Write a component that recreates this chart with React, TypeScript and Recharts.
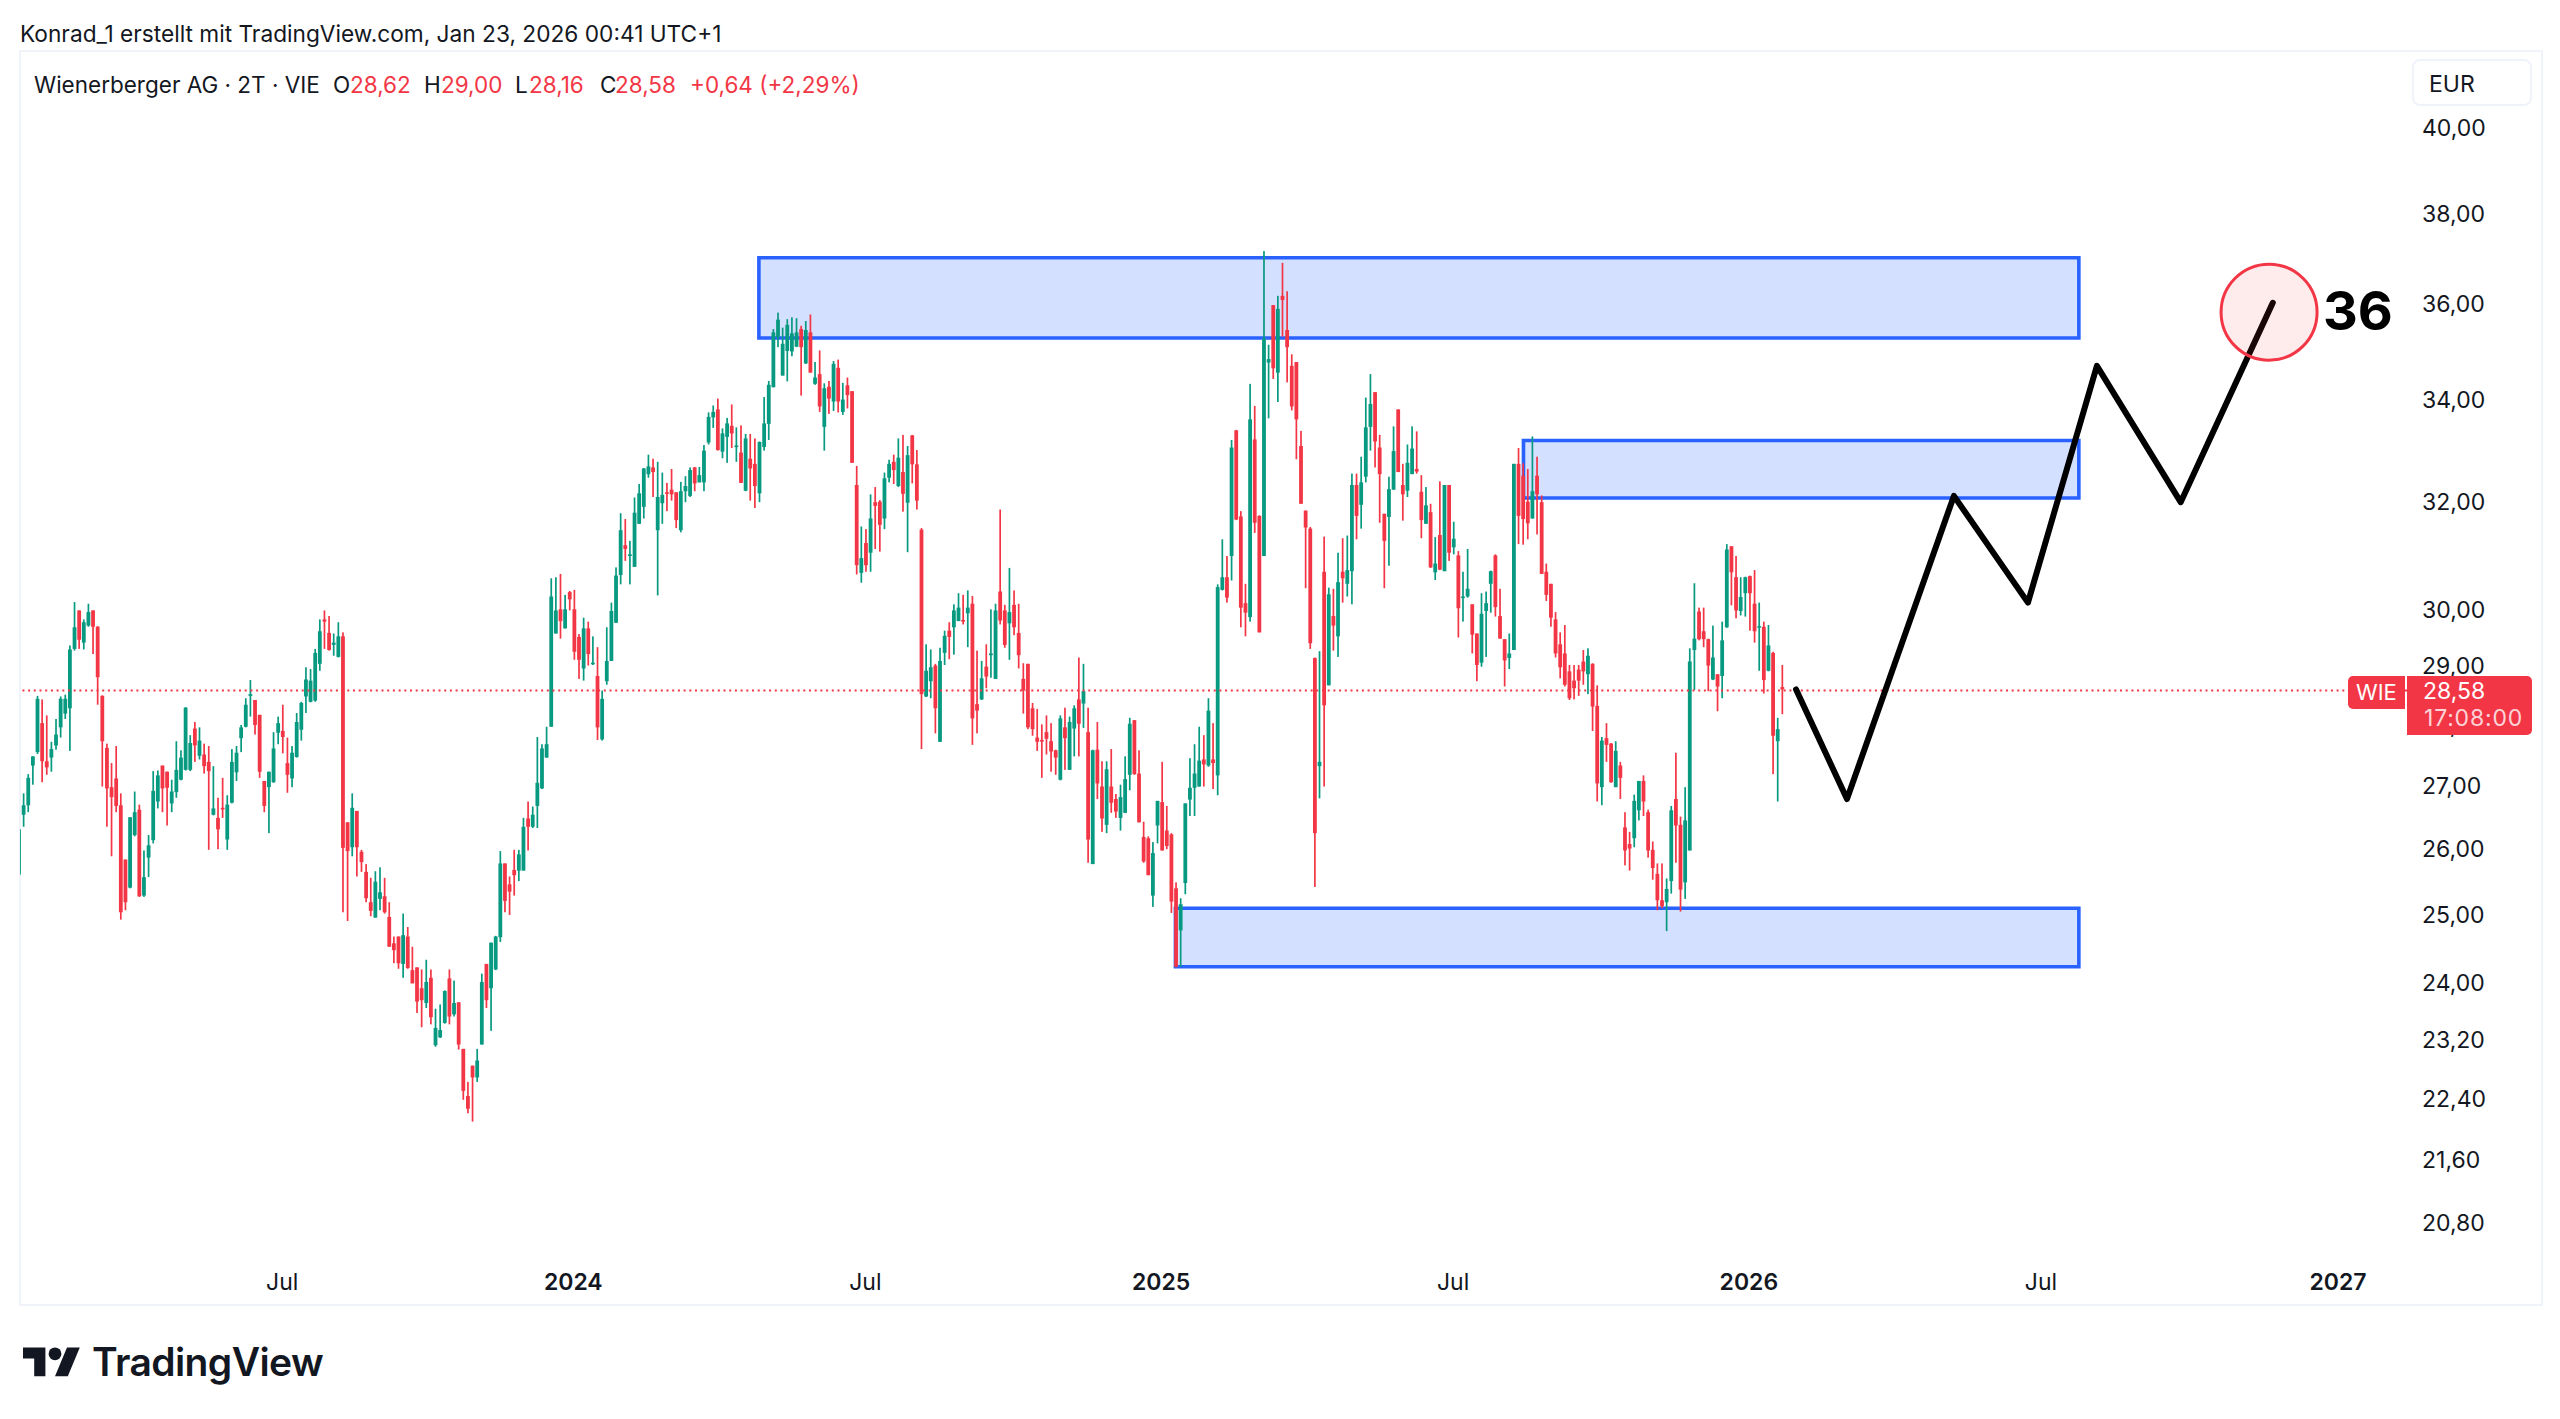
import React from "react";
import { ComposedChart, Bar, Line, XAxis, YAxis, ReferenceArea, ReferenceLine, ReferenceDot } from "recharts";

const FONT = "Inter, Roboto, sans-serif";
const UP = "#089981";
const DOWN = "#f23645";
const BLUE = "#2962ff";
const INK = "#131722";

const opens = [25.59,26.52,26.67,27.31,27.53,28.01,27.38,27.44,27.64,27.94,
28.17,28.26,29.28,29.96,29.39,29.69,29.96,29.67,28.47,27.60,
26.96,27.10,26.67,25.82,25.39,26.20,26.60,25.27,25.85,26.12,
26.73,27.31,27.21,26.70,26.88,27.08,27.24,27.24,27.92,27.47,
27.49,27.37,26.52,26.47,26.63,26.13,26.71,27.20,27.76,27.95,
28.47,28.40,28.15,27.06,26.96,27.04,27.85,27.88,27.35,27.10,
27.45,27.90,28.46,28.37,28.39,
29.02,29.80,29.56,29.35,29.14,29.50,26.40,26.01,26.58,25.94,
25.63,25.17,24.94,25.22,25.26,24.95,24.56,24.66,24.26,24.66,
24.17,24.21,23.91,23.70,24.06,23.11,23.22,23.42,24.05,23.54,
23.71,23.06,22.42,22.83,22.67,23.12,24.26,23.91,24.18,24.65,
25.76,25.44,25.66,25.65,25.65,26.46,26.33,26.66,26.94,27.44,
27.95,29.55,29.98,29.64,30.29,29.98,29.49,28.94,29.64,29.02,
28.81,27.74,28.72,29.07,29.74,30.60,31.15,30.95,30.75,31.55,
31.87,32.50,32.63,31.43,31.94,32.15,32.20,32.15,31.43,32.17,
32.08,32.63,32.34,32.34,33.12,33.62,33.78,32.94,33.23,33.45,
33.04,32.92,32.18,32.80,32.70,32.13,33.03,33.49,34.23,35.27,
34.47,34.98,34.97,35.07,35.44,34.72,35.37,34.30,34.50,33.43,
34.24,33.94,34.63,33.73,34.27,34.15,32.29,30.64,31.19,31.01,
31.96,31.97,31.65,32.43,32.74,32.27,
32.54,31.95,33.26,32.69,31.44,28.46,28.72,28.99,27.70,
29.21,29.60,29.66,29.77,29.79,29.91,30.08,28.33,28.41,28.97,
29.17,28.76,30.30,29.96,29.73,30.06,29.56,28.76,29.02,28.26,
27.77,27.73,27.86,27.71,27.56,27.08,27.94,27.24,27.92,28.41,
28.34,27.86,25.75,27.57,26.97,26.36,26.97,26.77,26.47,26.55,
27.16,28.06,27.18,26.17,26.15,25.27,26.35,26.72,26.27,26.21,
25.38,24.75,25.46,26.76,26.95,26.97,27.41,27.31,27.41,27.15,
30.33,30.56,30.95,33.36,31.69,30.09,29.84,33.18,31.70,30.95,
34.74,35.95,34.53,36.15,35.42,34.67,34.75,33.05,31.80,31.46,
29.12,27.30,30.66,28.65,29.86,29.50,30.66,30.44,30.67,32.29,
31.91,32.45,33.43,34.13,33.02,31.74,31.68,32.20,33.78,32.29,
32.18,32.50,32.60,32.16,31.55,31.77,30.65,31.34,30.67,32.29,
31.11,30.96,30.19,30.21,30.07,29.55,29.04,29.95,30.44,30.96,
29.86,29.45,29.12,29.26,32.70,32.47,31.97,31.65,32.47,31.96,
30.66,30.44,29.80,29.36,29.20,28.89,28.73,28.92,29.06,28.84,
29.02,28.30,26.96,27.76,27.67,26.96,27.31,26.32,26.06,26.15,
26.59,27.06,26.56,25.97,25.60,25.20,25.17,25.49,26.77,26.36,
25.47,25.96,29.26,29.94,29.59,29.45,28.75,28.84,28.81,29.66,
31.13,30.56,29.95,30.27,30.58,30.08,29.67,29.67,28.90,29.21,
27.71,28.62];

const closes = [26.29,26.67,27.11,27.46,28.42,27.38,27.28,27.58,27.82,28.42,
28.42,29.27,29.66,29.44,29.75,29.93,29.67,28.79,27.71,26.94,
26.80,26.66,25.02,25.17,26.48,26.56,25.26,25.55,26.04,26.90,
27.15,26.94,26.95,26.89,27.24,27.44,28.27,27.68,27.64,27.72,
27.30,27.22,26.62,26.29,26.62,26.68,27.37,27.52,27.94,28.32,
28.50,27.98,27.21,26.66,27.21,27.59,28.01,27.78,27.16,27.52,
28.03,28.35,28.75,28.73,29.21,
29.59,29.76,29.26,29.39,29.50,26.00,25.95,26.63,26.01,25.78,
25.23,25.04,25.48,25.32,25.02,24.51,24.46,24.27,24.68,24.20,
23.98,23.72,23.74,24.00,23.50,23.35,23.32,23.87,23.51,23.70,
23.12,22.49,22.25,22.67,22.90,24.00,23.74,24.57,24.66,25.76,
25.19,25.33,25.58,25.90,26.33,26.33,26.52,27.03,27.59,27.66,
30.21,29.96,29.77,29.98,30.16,29.23,29.09,29.64,29.19,29.04,
27.94,28.42,29.07,29.95,30.59,31.43,31.08,30.98,31.76,32.13,
32.61,32.65,32.54,32.06,32.10,32.13,32.11,31.62,32.17,32.27,
32.58,32.32,32.48,32.96,33.63,33.73,32.97,33.30,33.50,33.30,
33.06,32.33,33.20,32.61,32.27,33.13,33.50,34.28,35.37,35.64,
35.13,35.53,35.35,35.37,35.06,35.42,34.53,34.43,33.84,34.21,
34.00,34.71,33.94,33.98,34.07,32.72,30.78,30.91,30.78,31.65,
31.89,31.53,32.42,32.70,32.58,32.82,
32.12,32.87,32.69,31.99,28.50,28.90,28.96,28.26,29.07,
29.51,29.49,29.96,30.01,29.76,30.01,28.09,28.22,28.77,28.80,
29.20,29.96,29.78,29.35,29.93,29.66,29.17,28.56,27.94,27.91,
27.70,27.71,27.75,27.54,27.44,28.09,27.76,28.03,28.26,28.00,
28.55,26.13,27.56,27.02,26.46,27.25,26.71,26.57,26.80,27.09,
28.00,27.17,26.40,25.79,25.58,25.92,26.74,25.96,26.03,25.18,
24.22,25.14,26.70,26.95,27.18,27.39,27.33,28.22,27.35,30.38,
30.56,30.19,33.02,31.63,30.01,29.92,33.58,31.57,29.57,35.24,
34.81,34.62,35.87,36.06,35.06,33.84,33.58,31.93,31.48,29.38,
26.23,27.37,28.31,30.25,29.69,30.47,30.54,30.69,32.29,31.70,
32.34,33.42,33.89,33.14,32.50,31.23,32.21,32.95,32.54,32.11,
32.72,33.00,32.55,31.62,31.90,30.74,30.81,30.70,32.29,31.01,
31.27,30.00,30.21,30.35,29.53,29.00,29.90,30.09,30.67,30.02,
29.46,29.08,29.20,32.70,31.70,31.64,31.56,32.17,32.11,30.62,
30.24,29.83,29.20,28.96,28.66,28.43,28.60,28.73,28.89,29.16,
28.29,27.02,27.72,27.65,27.04,27.55,27.11,25.96,25.99,26.74,
27.06,26.73,25.96,25.69,25.20,25.11,25.37,26.59,26.35,25.36,
26.43,29.06,29.46,29.45,29.45,28.99,29.13,28.63,29.43,31.07,
30.65,29.96,30.20,30.56,30.27,29.59,29.68,28.74,29.34,27.80,
27.91,28.58];

const highs = [26.47,26.86,27.17,27.46,28.47,28.41,28.14,27.70,28.08,28.46,
28.49,29.34,30.11,29.96,29.80,30.08,29.96,29.68,28.48,27.67,
27.35,27.63,26.86,25.82,26.48,26.89,26.68,25.96,26.20,27.22,
27.23,27.31,27.21,27.08,27.71,27.56,28.28,27.81,28.03,27.94,
27.67,27.63,27.30,26.79,27.11,26.83,27.58,27.63,27.98,28.43,
28.74,28.40,28.15,27.06,27.21,27.86,28.12,28.32,27.77,27.63,
28.18,28.37,28.96,28.93,29.28,
29.80,29.96,29.86,29.55,29.75,29.57,26.40,26.86,26.58,25.97,
25.75,25.54,25.64,25.70,25.54,25.17,24.66,24.66,25.00,24.80,
24.51,24.21,24.18,24.32,24.18,23.62,23.68,23.88,24.18,24.02,
23.71,23.06,22.61,22.83,23.06,24.12,24.26,24.57,24.67,25.95,
25.76,25.56,25.97,25.97,26.47,26.73,26.65,27.78,27.66,27.95,
30.54,30.56,30.62,30.24,30.31,30.33,29.54,29.83,29.76,29.50,
29.31,28.56,29.66,30.10,30.74,31.75,31.64,31.23,32.05,32.31,
32.62,32.88,32.80,32.74,32.53,32.33,32.60,32.15,32.35,32.46,
32.63,32.64,32.64,33.07,33.72,33.86,34.00,33.40,33.61,33.88,
33.42,33.46,33.29,33.29,33.20,33.14,34.03,34.36,35.44,35.79,
35.47,35.65,35.69,35.67,35.51,35.61,35.75,34.75,34.99,34.31,
34.36,34.77,34.80,34.32,34.43,34.15,32.66,31.50,31.45,32.11,
32.25,32.00,32.53,32.78,32.88,33.20,
33.27,33.05,33.27,32.97,31.47,29.36,29.27,29.02,29.30,
29.60,29.75,30.07,30.27,30.24,30.32,30.22,29.25,29.07,29.36,
29.98,30.08,31.82,30.06,30.73,30.32,30.08,29.03,29.02,28.35,
28.25,27.99,28.14,28.01,27.57,28.14,28.27,28.12,28.31,29.13,
29.02,28.27,27.57,28.03,27.38,27.38,27.58,26.85,27.00,27.46,
28.10,28.06,27.56,26.41,26.18,26.09,26.74,27.37,26.66,26.23,
25.47,25.23,26.70,27.43,27.66,27.95,27.81,28.43,28.01,30.43,
31.26,30.95,33.17,33.37,31.79,30.44,34.30,33.85,31.71,37.13,
35.11,35.95,36.15,36.87,36.25,34.91,34.75,33.35,31.80,31.49,
29.13,29.24,31.31,30.37,30.35,31.01,31.28,31.33,32.51,32.51,
32.84,34.02,34.50,34.13,33.27,31.74,32.45,33.44,33.78,32.70,
33.08,33.44,33.34,32.48,32.25,31.93,31.30,32.36,32.29,32.29,
31.59,31.04,30.66,31.08,30.07,29.55,30.27,30.30,30.68,30.98,
30.35,29.45,29.55,32.70,33.01,32.71,32.60,33.24,32.84,32.09,
30.81,30.44,29.93,29.57,29.70,29.00,29.00,29.00,29.26,29.29,
29.03,28.65,27.78,28.01,27.68,27.71,27.37,26.56,26.25,26.84,
27.06,27.15,26.60,26.10,25.76,25.76,25.53,26.66,27.52,26.49,
26.96,29.29,30.45,30.01,30.01,29.46,29.69,28.84,29.76,31.17,
31.13,30.95,30.56,30.57,30.59,30.69,30.10,29.76,29.70,29.23,
28.10,29.00];

const lows = [25.55,26.33,26.56,27.00,27.50,27.04,27.16,27.21,27.57,27.77,
28.08,27.55,29.25,29.28,29.27,29.67,29.19,28.32,26.97,26.33,
25.87,26.56,24.91,25.05,25.38,26.18,25.25,25.25,25.55,26.07,
26.62,26.56,26.35,26.56,26.79,27.07,27.23,27.22,27.37,27.41,
27.18,25.97,26.51,25.98,26.47,25.97,26.70,27.06,27.53,27.94,
28.12,27.82,27.11,26.56,26.23,27.03,27.66,27.51,26.87,26.96,
27.44,27.72,28.18,28.36,28.37,
28.90,29.28,29.25,29.16,29.13,25.02,24.89,25.87,25.56,25.63,
25.17,24.96,24.94,25.05,25.00,24.51,24.27,24.19,24.06,24.19,
23.98,23.56,23.36,23.63,23.40,23.09,23.21,23.41,23.40,23.51,
23.05,22.37,22.19,22.08,22.61,23.12,23.63,23.31,24.17,24.58,
25.02,24.98,25.27,25.49,25.65,25.96,26.31,26.31,26.93,27.44,
27.95,29.55,29.46,29.64,29.96,29.09,28.76,28.73,28.99,29.00,
27.73,27.72,28.66,29.07,29.74,30.43,30.86,30.43,30.75,31.55,
31.65,32.43,32.06,30.23,31.55,31.79,31.99,31.47,31.39,31.96,
32.06,32.17,32.34,32.17,33.08,33.41,32.96,32.81,32.72,33.01,
32.74,32.33,32.17,31.99,31.85,31.96,32.96,33.17,34.23,35.06,
34.47,34.35,34.87,35.06,34.06,34.71,34.53,34.28,33.73,32.96,
33.69,33.75,33.72,33.67,33.80,32.72,30.61,30.46,30.66,30.66,
31.08,31.03,31.45,32.34,32.31,32.25,
31.78,31.02,32.32,31.82,27.58,28.45,28.43,27.84,27.70,
29.00,29.10,29.18,29.77,29.71,29.31,27.65,27.84,28.40,28.60,
28.78,28.76,29.71,29.30,29.09,29.52,28.94,28.17,27.91,27.80,
27.55,27.11,27.49,27.21,27.16,27.07,27.24,27.24,27.46,27.46,
27.93,25.77,25.75,26.77,26.25,26.23,26.55,26.47,26.27,26.55,
26.91,27.16,26.40,25.77,25.58,25.10,26.07,25.96,25.98,25.01,
24.21,24.22,25.29,26.50,26.50,26.97,26.97,27.29,26.93,26.83,
30.32,30.10,30.50,31.62,29.66,29.50,29.76,31.38,29.57,30.95,
33.60,34.40,33.93,35.28,34.33,33.76,32.79,31.93,30.36,29.28,
25.40,26.78,26.97,28.65,29.25,29.14,30.10,30.21,30.07,31.26,
31.46,32.34,32.96,32.63,31.57,30.36,30.77,32.20,32.54,31.61,
32.06,32.50,32.51,31.28,31.55,30.73,30.51,30.69,30.67,30.86,
30.98,29.48,29.76,30.19,29.20,28.72,28.97,29.14,29.92,29.85,
29.46,28.63,28.93,29.26,31.17,31.16,31.26,31.65,31.35,30.62,
30.13,29.67,29.13,28.77,28.63,28.40,28.41,28.47,28.66,28.50,
27.88,26.73,26.67,27.37,27.03,26.96,26.77,25.73,25.65,26.01,
26.43,26.50,25.85,25.51,25.05,25.08,24.74,25.30,25.77,25.03,
25.22,25.96,28.57,29.43,29.31,28.55,28.74,28.21,28.43,29.65,
30.05,29.82,29.87,29.85,29.60,29.39,28.90,28.51,28.89,27.17,
26.73,28.16];

// Time axis, in bar numbers
const timeTicks = [56.8, 119.7, 182.8, 246.7, 309.8, 373.7, 436.8, 501];
const timeLabels = ["Jul", "2024", "Jul", "2025", "Jul", "2026", "Jul", "2027"];
const priceTicks = [40, 38, 36, 34, 32, 30, 29, 28, 27, 26, 25, 24, 23.2, 22.4, 21.6, 20.8];

// Hand-drawn projection
const pathBars = [383.9, 394.9, 418, 434, 448.9, 467, 486.9];
const pathPrices = [28.58, 26.77, 32.08, 30.10, 34.67, 31.96, 36.0];

// Supply and demand zones: [first bar, last bar, lower price, upper price]
const zoneTop = [159.8, 445, 35.25, 36.98];
const zoneMiddle = [325, 445, 32.04, 33.16];
const zoneBottom = [249.8, 445, 24.22, 25.08];
const targetBar = 486.1;
const targetPrice = 35.8;
const lastPriceLine = 28.56;

const candleRows = opens.map((o, i) => ({
  bar: i,
  open: o,
  close: closes[i],
  hl: [lows[i], highs[i]],
}));
const pathRows = pathBars.map((bar, i) => ({ bar, path: pathPrices[i] }));

function Candle(props: any) {
  const { x, y, width, height, payload } = props;
  if (!payload || !payload.hl || !Number.isFinite(y) || !Number.isFinite(height)) return null;
  const [low, high] = payload.hl;
  const span = Math.log(high / low) || 1;
  const at = (p: number) => y + (height * Math.log(high / p)) / span;
  const color = payload.close >= payload.open ? UP : DOWN;
  const cx = x + width / 2;
  const top = at(Math.max(payload.open, payload.close));
  const bottom = at(Math.min(payload.open, payload.close));
  return (
    <g>
      <rect x={cx - 0.85} y={y} width={1.7} height={height} fill={color} />
      <rect x={cx - 1.9} y={top} width={3.8} height={Math.max(bottom - top, 1.6)} fill={color} />
    </g>
  );
}

function TimeTick(props: any) {
  const { x, y, payload } = props;
  const i = timeTicks.indexOf(payload.value);
  const label = timeLabels[i] ?? "";
  const bold = label !== "Jul";
  return (
    <text x={x} y={y + 26.5} textAnchor="middle" dominantBaseline="central" fontFamily={FONT} fontSize={23} fontWeight={bold ? 600 : 400} fill={INK}>
      {label}
    </text>
  );
}

function PriceTick(props: any) {
  const { x, y, payload } = props;
  return (
    <text x={x} y={y + 1.5} textAnchor="start" dominantBaseline="central" fontFamily={FONT} fontSize={23} fill={INK}>
      {Number(payload.value).toFixed(2).replace(".", ",")}
    </text>
  );
}

const abs = (left: number, centerY: number, extra: React.CSSProperties = {}): React.CSSProperties => ({
  position: "absolute",
  left,
  top: centerY - 20,
  height: 40,
  lineHeight: "40px",
  whiteSpace: "nowrap",
  fontFamily: FONT,
  fontSize: 22.5,
  color: INK,
  ...extra,
});

export default function App() {
  const zones = [zoneTop, zoneMiddle, zoneBottom];
  return (
    <div style={{ position: "absolute", left: 0, top: 0, width: 2560, height: 1419, background: "#fff", overflow: "hidden" }}>
      <div style={{ position: "absolute", left: 19, top: 50, width: 2520, height: 1252, border: "2px solid #f0f3fa" }} />
      <ComposedChart
        width={2560}
        height={1419}
        data={candleRows}
        margin={{ top: 51, right: 19, bottom: 115, left: 20 }}
        style={{ position: "absolute", left: 0, top: 0 }}
      >
        <XAxis
          dataKey="bar"
          type="number"
          domain={[0.15, 515.9]}
          allowDataOverflow
          ticks={timeTicks}
          interval={0}
          height={49}
          axisLine={false}
          tickLine={false}
          tickSize={0}
          tickMargin={0}
          tick={TimeTick}
        />
        <YAxis
          type="number"
          scale="log"
          domain={[20.39, 41.84]}
          allowDataOverflow
          orientation="right"
          ticks={priceTicks}
          interval={0}
          width={134}
          axisLine={false}
          tickLine={false}
          tickSize={0}
          tickMargin={15}
          tick={PriceTick}
        />
        <ReferenceLine y={lastPriceLine} stroke={DOWN} strokeWidth={2} strokeDasharray="2 3.7" />
        {zones.map((z, i) => (
          <ReferenceArea
            key={i}
            x1={z[0]}
            x2={z[1]}
            y1={z[2]}
            y2={z[3]}
            ifOverflow="visible"
            fill={BLUE}
            fillOpacity={0.2}
            stroke={BLUE}
            strokeWidth={3.6}
          />
        ))}
        <Bar dataKey="hl" barSize={4} shape={Candle} isAnimationActive={false} />
        <ReferenceDot
          x={targetBar}
          y={targetPrice}
          r={48}
          ifOverflow="visible"
          fill={DOWN}
          fillOpacity={0.1}
          stroke={DOWN}
          strokeWidth={3}
        />
        <Line
          data={pathRows}
          dataKey="path"
          type="linear"
          stroke="#000"
          strokeWidth={6}
          strokeLinecap="round"
          strokeLinejoin="round"
          dot={false}
          connectNulls
          isAnimationActive={false}
        />
      </ComposedChart>

      <div style={abs(20, 34, { fontSize: 22.7 })}>Konrad_1 erstellt mit TradingView.com, Jan 23, 2026 00:41 UTC+1</div>

      <div style={abs(34, 85)}>Wienerberger AG · 2T · VIE</div>
      <div style={abs(333, 85)}>O</div>
      <div style={abs(350, 85, { color: DOWN })}>28,62</div>
      <div style={abs(424, 85)}>H</div>
      <div style={abs(441, 85, { color: DOWN })}>29,00</div>
      <div style={abs(515, 85)}>L</div>
      <div style={abs(529, 85, { color: DOWN })}>28,16</div>
      <div style={abs(600, 85)}>C</div>
      <div style={abs(615, 85, { color: DOWN })}>28,58</div>
      <div style={abs(690, 85, { color: DOWN })}>+0,64 (+2,29%)</div>

      <div style={{ position: "absolute", left: 2412, top: 59, width: 120, height: 47, border: "2px solid #f0f3fa", borderRadius: 8, boxSizing: "border-box" }} />
      <div style={abs(2429, 84, { fontSize: 23 })}>EUR</div>

      <div style={{ position: "absolute", left: 2348, top: 676, width: 57, height: 33, background: DOWN, borderRadius: "5px 0 0 5px" }} />
      <div style={abs(2356, 692, { color: "#fff", fontSize: 22 })}>WIE</div>
      <div style={{ position: "absolute", left: 2407, top: 676, width: 125, height: 59, background: DOWN, borderRadius: "0 5px 5px 0" }} />
      <div style={abs(2423, 691, { color: "#fff", fontSize: 23 })}>28,58</div>
      <div style={abs(2424, 718, { color: "#ffffffcc", fontSize: 23, letterSpacing: 0.8 })}>17:08:00</div>

      <div style={abs(2323, 311, { fontSize: 54, fontWeight: 700, color: "#000", height: 70, lineHeight: "70px", top: 276 })}>36</div>

      <svg width={60} height={40} viewBox="0 0 37.5 25" style={{ position: "absolute", left: 23, top: 1341 }}>
        <path d="M14 22H7V11H0V4h14v18zM28 22h-8l7.5-18h8L28 22z" fill="#131722" />
        <circle cx="20" cy="8" r="4" fill="#131722" />
      </svg>
      <div style={abs(92, 1362, { fontSize: 39, fontWeight: 600, color: "#131722", height: 50, lineHeight: "50px", top: 1337, letterSpacing: -0.6 })}>TradingView</div>
    </div>
  );
}
